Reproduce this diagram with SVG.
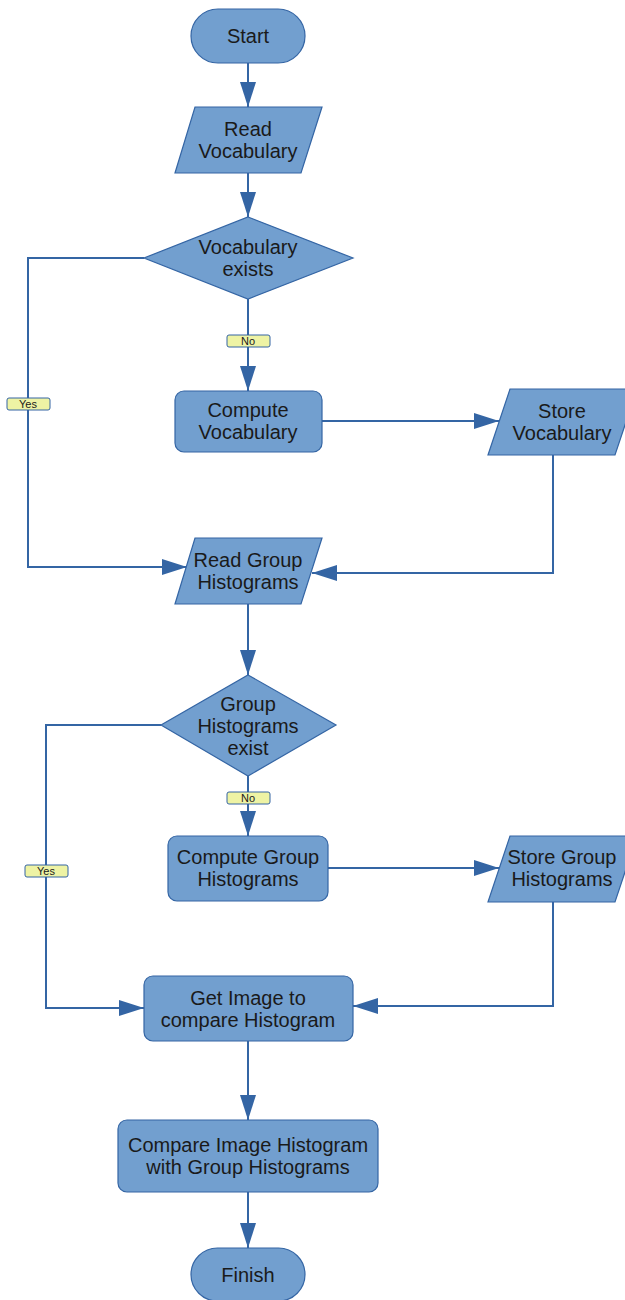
<svg xmlns="http://www.w3.org/2000/svg" width="625" height="1300" viewBox="0 0 625 1300">
<style>
.n{fill:#729fcf;stroke:#3465a4;stroke-width:1.2}
.t{font-family:"Liberation Sans",Arial,sans-serif;font-size:20px;fill:#1a1a1a;text-anchor:middle}
.c{fill:none;stroke:#3465a4;stroke-width:2}
.lb{fill:#eef3a4;stroke:#3465a4;stroke-width:1}
.lt{font-family:"Liberation Sans",Arial,sans-serif;font-size:11px;fill:#1a1a1a;text-anchor:middle}
</style>
<defs>
<marker id="ah" markerUnits="userSpaceOnUse" markerWidth="26" markerHeight="16" refX="25" refY="8" orient="auto" viewBox="0 0 26 16">
<path d="M0,0 L25,8 L0,16 z" fill="#3465a4"/>
</marker>
</defs>
<g id="connectors">
<line class="c" x1="248" y1="63" x2="248" y2="107" marker-end="url(#ah)"/>
<line class="c" x1="248" y1="173" x2="248" y2="217" marker-end="url(#ah)"/>
<line class="c" x1="248" y1="299" x2="248" y2="391" marker-end="url(#ah)"/>
<polyline class="c" points="144,258 28,258 28,567 187,567" marker-end="url(#ah)"/>
<line class="c" x1="322" y1="421" x2="499" y2="421" marker-end="url(#ah)"/>
<polyline class="c" points="553,455 553,573 312,573" marker-end="url(#ah)"/>
<line class="c" x1="248" y1="604" x2="248" y2="675" marker-end="url(#ah)"/>
<line class="c" x1="248" y1="776" x2="248" y2="836" marker-end="url(#ah)"/>
<polyline class="c" points="161,725 46,725 46,1008 144,1008" marker-end="url(#ah)"/>
<line class="c" x1="328" y1="868" x2="499" y2="868" marker-end="url(#ah)"/>
<polyline class="c" points="553,902 553,1006 353,1006" marker-end="url(#ah)"/>
<line class="c" x1="248" y1="1041" x2="248" y2="1120" marker-end="url(#ah)"/>
<line class="c" x1="248" y1="1192" x2="248" y2="1248" marker-end="url(#ah)"/>
<g id="label-no1"><rect class="lb" x="227" y="335" width="43" height="12" rx="2"/><text class="lt" x="248" y="345">No</text></g>
<g id="label-yes1"><rect class="lb" x="7" y="398" width="43" height="12" rx="2"/><text class="lt" x="28" y="408">Yes</text></g>
<g id="label-no2"><rect class="lb" x="227" y="792" width="43" height="12" rx="2"/><text class="lt" x="248" y="802">No</text></g>
<g id="label-yes2"><rect class="lb" x="25" y="865" width="43" height="12" rx="2"/><text class="lt" x="46" y="875">Yes</text></g>
</g>
<g id="start"><rect class="n" x="191" y="9" width="114" height="54" rx="27"/><text class="t" x="248" y="43">Start</text></g>
<g id="read-vocabulary"><polygon class="n" points="195,107 322,107 301,173 175,173"/><text class="t" x="248" y="136">Read</text><text class="t" x="248" y="158">Vocabulary</text></g>
<g id="vocabulary-exists"><polygon class="n" points="248,217 353,258 248,299 144,258"/><text class="t" x="248" y="254">Vocabulary</text><text class="t" x="248" y="276">exists</text></g>
<g id="compute-vocabulary"><rect class="n" x="175" y="391" width="147" height="61" rx="9"/><text class="t" x="248" y="417">Compute</text><text class="t" x="248" y="439">Vocabulary</text></g>
<g id="store-vocabulary"><polygon class="n" points="510,389 637,389 615,455 488,455"/><text class="t" x="562" y="418">Store</text><text class="t" x="562" y="440">Vocabulary</text></g>
<g id="read-group-histograms"><polygon class="n" points="195,538 322,538 301,604 175,604"/><text class="t" x="248" y="567">Read Group</text><text class="t" x="248" y="589">Histograms</text></g>
<g id="group-histograms-exist"><polygon class="n" points="248,675 336,725 248,776 161,725"/><text class="t" x="248" y="711">Group</text><text class="t" x="248" y="733">Histograms</text><text class="t" x="248" y="755">exist</text></g>
<g id="compute-group-histograms"><rect class="n" x="168" y="836" width="160" height="65" rx="9"/><text class="t" x="248" y="864">Compute Group</text><text class="t" x="248" y="886">Histograms</text></g>
<g id="store-group-histograms"><polygon class="n" points="510,836 637,836 615,902 488,902"/><text class="t" x="562" y="864">Store Group</text><text class="t" x="562" y="886">Histograms</text></g>
<g id="get-image"><rect class="n" x="144" y="976" width="209" height="65" rx="9"/><text class="t" x="248" y="1005">Get Image to</text><text class="t" x="248" y="1027">compare Histogram</text></g>
<g id="compare-image"><rect class="n" x="118" y="1120" width="260" height="72" rx="9"/><text class="t" x="248" y="1152">Compare Image Histogram</text><text class="t" x="248" y="1174">with Group Histograms</text></g>
<g id="finish"><rect class="n" x="191" y="1248" width="114" height="53" rx="26.5"/><text class="t" x="248" y="1282">Finish</text></g>
</svg>
